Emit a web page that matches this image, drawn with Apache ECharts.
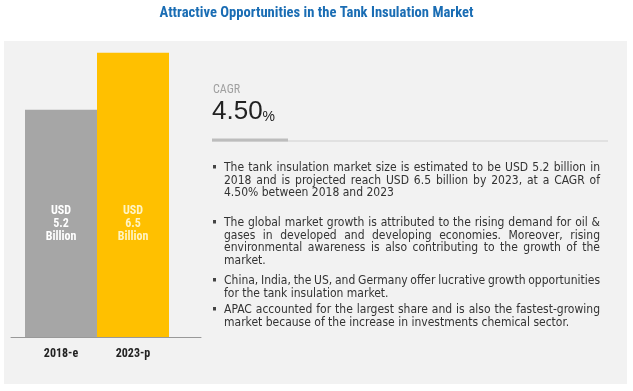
<!DOCTYPE html>
<html><head><meta charset="utf-8">
<script src="https://cdn.jsdelivr.net/npm/echarts@6/dist/echarts.min.js"></script>
<style>html,body{margin:0;padding:0;background:#fff}#c{width:633px;height:391px}</style>
</head><body><div id="c"></div>
<script>
const title = 'Attractive Opportunities in the Tank Insulation Market';
const categories = ['2018-e', '2023-p'];
const values = [5.2, 6.5];
const barLabels = ['USD\n5.2\nBillion', 'USD\n6.5\nBillion'];
const cagrLabel = 'CAGR';
const cagrValue = '4.50';
const bullets = [
  ['The tank insulation market size is estimated to be USD 5.2 billion in',
   '2018 and is projected reach USD 6.5 billion by 2023, at a CAGR of',
   '4.50% between 2018 and 2023'],
  ['The global market growth is attributed to the rising demand for oil &',
   'gases in developed and developing economies. Moreover, rising',
   'environmental awareness is also contributing to the growth of the',
   'market.'],
  ['China, India, the US, and Germany offer lucrative growth opportunities',
   'for the tank insulation market.'],
  ['APAC accounted for the largest share and is also the fastest-growing',
   'market because of the increase in investments chemical sector.']
];

const NARROW = '"Roboto Condensed", "DejaVu Sans Condensed", sans-serif';
const BODY = '"DejaVu Sans Condensed", sans-serif';

const chart = echarts.init(document.getElementById('c'));
const ctx = document.createElement('canvas').getContext('2d');
const bodySize = 12;
ctx.font = bodySize + 'px ' + BODY;

const graphics = [];
graphics.push({type:'rect', left:4, top:41, shape:{width:623, height:343}, style:{fill:'#f2f2f2'}, z:-10, silent:true});
graphics.push({type:'text', left:'center', top:6, style:{text:title, font:'bold 14.6px ' + NARROW, fill:'#1a6db4'}});
graphics.push({type:'text', left:213, top:84, style:{text:cagrLabel, font:'12px ' + NARROW, fill:'#a0a0a0'}});
graphics.push({type:'text', left:212, top:99, style:{
  text:'{a|' + cagrValue + '}{b|%}',
  rich:{a:{font:'26px "Liberation Sans", sans-serif', fill:'#222', verticalAlign:'bottom'},
        b:{font:'14px "Liberation Sans", sans-serif', fill:'#222', verticalAlign:'bottom', padding:[0,0,1,0]}}}});
graphics.push({type:'rect', shape:{x:212, y:140.5, width:396, height:1}, style:{fill:'#cfcfcf'}});
graphics.push({type:'rect', shape:{x:212, y:138.5, width:76, height:3}, style:{fill:'#bdbdbd'}});

const x0 = 224, x1 = 600;
const lineH = 12.6;
const paraStarts = [168, 223, 281, 310];
bullets.forEach((lines, pi) => {
  const y0 = paraStarts[pi];
  graphics.push({type:'rect', shape:{x:213, y:y0-3, width:3, height:3.5}, style:{fill:'#444'}});
  lines.forEach((line, li) => {
    const y = y0 + li * lineH;
    const last = li === lines.length - 1;
    const words = line.split(' ');
    if (last || words.length < 2) {
      graphics.push({type:'text', x:x0, y:y, style:{text:line, font:bodySize+'px '+BODY, fill:'#333', textVerticalAlign:'middle'}});
    } else {
      const widths = words.map(w => ctx.measureText(w).width);
      const total = widths.reduce((a,b)=>a+b,0);
      const gap = (x1 - x0 - total) / (words.length - 1);
      let cx = x0;
      words.forEach((w, wi) => {
        graphics.push({type:'text', x:cx, y:y, style:{text:w, font:bodySize+'px '+BODY, fill:'#333', textVerticalAlign:'middle'}});
        cx += widths[wi] + gap;
      });
    }
  });
});

chart.setOption({
  backgroundColor:'#ffffff',
  animation:false,
  grid:[
    {left:25, width:144, top:31, bottom:54},
    {left:11, width:190, top:31, bottom:54}
  ],
  xAxis:[
    {type:'category', gridIndex:0, data:categories, axisLine:{show:false}, axisTick:{show:false},
     axisLabel:{margin:11, fontFamily:NARROW, fontSize:12, fontWeight:'bold', color:'#222'}},
    {type:'value', gridIndex:1, min:0, max:1, axisLine:{show:true, lineStyle:{color:'#999', width:1}},
     axisTick:{show:false}, axisLabel:{show:false}, splitLine:{show:false}}
  ],
  yAxis:[
    {type:'value', gridIndex:0, min:0, max:7, show:false, splitLine:{show:false}},
    {type:'value', gridIndex:1, min:0, max:1, show:false, splitLine:{show:false}}
  ],
  series:[{
    type:'bar', xAxisIndex:0, yAxisIndex:0, barCategoryGap:'0%', barWidth:'100%',
    data: values.map((v,i)=>({value:v, itemStyle:{color: i===0 ? '#a6a6a6' : '#ffc000'},
      label:{color: i===0 ? '#ffffff' : '#fff4c4'}})),
    label:{show:true, position:'insideBottom', distance:94, fontFamily:NARROW, fontSize:12, fontWeight:'bold', lineHeight:13,
      formatter: p => barLabels[p.dataIndex]}
  }],
  graphic: graphics
});
</script>
</body></html>
